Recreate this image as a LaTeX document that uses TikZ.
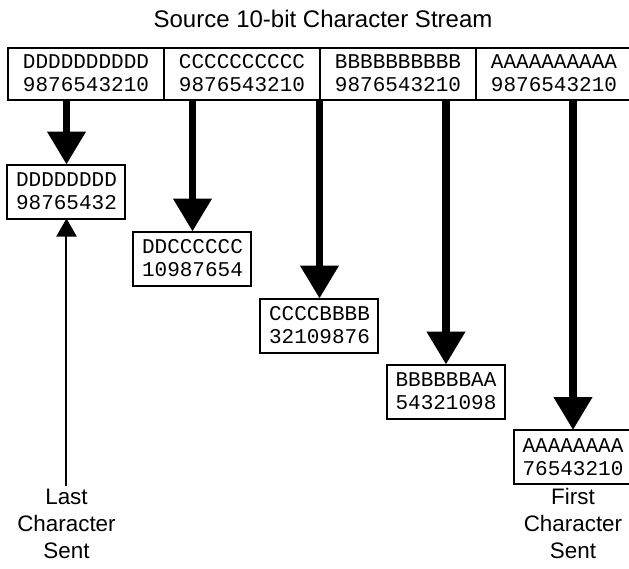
\documentclass[tikz,border=0pt]{standalone}
\usepackage{fontspec}
\setmainfont{Liberation Sans}
\setmonofont{Liberation Mono}
\usetikzlibrary{positioning,arrows.meta}
\begin{document}
\begin{tikzpicture}[x=0.5pt,y=-0.5pt,
	cell/.style={draw,line width=1pt,outer sep=0pt,inner sep=0pt,minimum width=78pt,minimum height=26pt,align=center,font=\ttfamily\fontsize{10.5}{11.5}\selectfont},
	chunk/.style={cell,minimum width=59pt,minimum height=27pt},
	caption/.style={align=center,inner sep=1pt,font=\fontsize{11.2}{13.5}\selectfont},
	bigarrow/.style={line width=3.75pt,-{Triangle[width=18.5pt,length=16.5pt]}},
	thinarrow/.style={line width=1pt,-{Triangle[width=10pt,length=9pt]}}]
\useasboundingbox (0,0) rectangle (629,569);
\node[font=\fontsize{12}{14}\selectfont] (title) at (323,19) {Source 10-bit Character Stream};
\node[cell] (c1) at (86,73.5) {DDDDDDDDDD\\9876543210};
\node[cell,right=0pt of c1] (c2) {CCCCCCCCCC\\9876543210};
\node[cell,right=0pt of c2] (c3) {BBBBBBBBBB\\9876543210};
\node[cell,right=0pt of c3] (c4) {AAAAAAAAAA\\9876543210};
\node[chunk] (b1) at (66.5,191.5) {DDDDDDDD\\98765432};
\node[chunk] (b2) at (192.5,258.5) {DDCCCCCC\\10987654};
\node[chunk] (b3) at (319.5,325.5) {CCCCBBBB\\32109876};
\node[chunk] (b4) at (446,391.5) {BBBBBBAA\\54321098};
\node[chunk] (b5) at (573,457) {AAAAAAAA\\76543210};
\node[caption,below=1pt of b5] (first) {First\\Character\\Sent};
\node[caption] (last) at (b1 |- first) {Last\\Character\\Sent};
\draw[bigarrow] (b1.north |- c1.south) -- (b1.north);
\draw[bigarrow] (b2.north |- c1.south) -- (b2.north);
\draw[bigarrow] (b3.north |- c1.south) -- (b3.north);
\draw[bigarrow] (b4.north |- c1.south) -- (b4.north);
\draw[bigarrow] (b5.north |- c1.south) -- (b5.north);
\draw[thinarrow] (last.north) -- (b1.south);
\end{tikzpicture}
\end{document}
